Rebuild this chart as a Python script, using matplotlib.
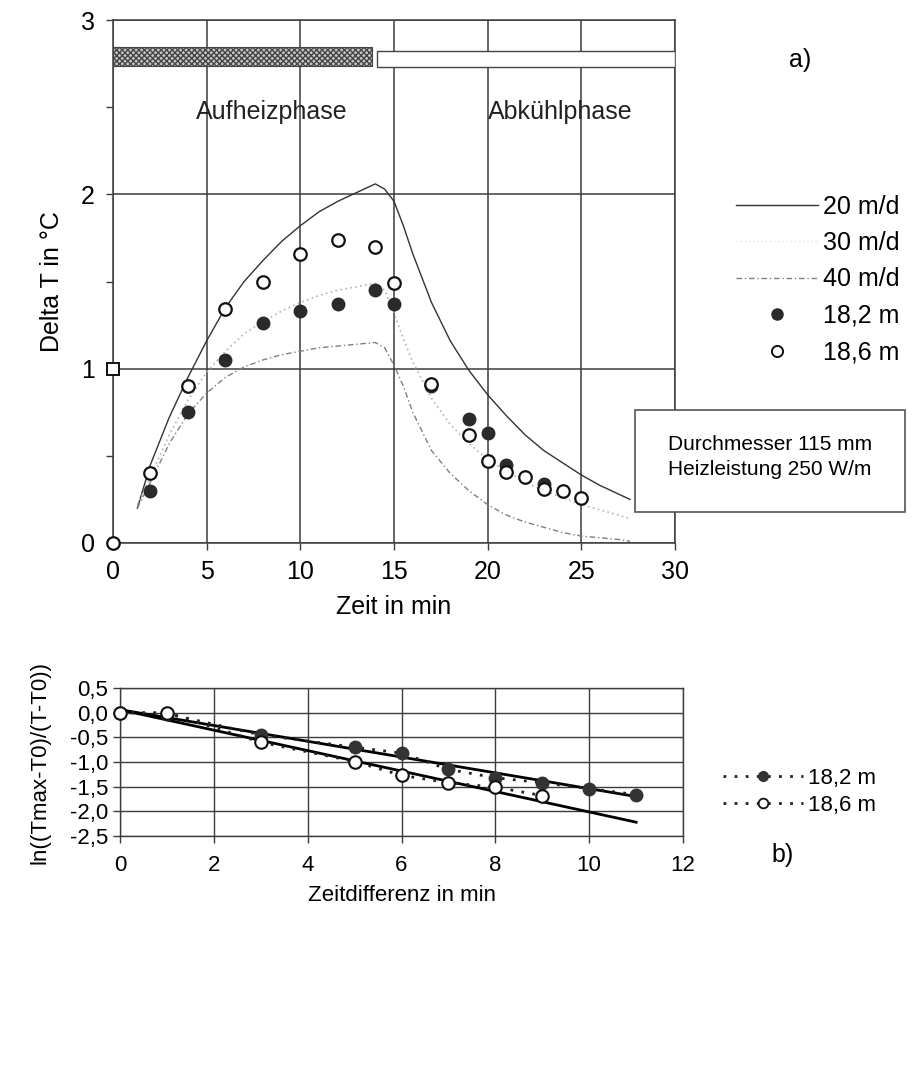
import numpy as np
import matplotlib
matplotlib.use("Agg")
import matplotlib.pyplot as plt
import matplotlib.patches as mpatches
from matplotlib.lines import Line2D

plt.rcParams["font.family"] = ["Liberation Sans", "DejaVu Sans"]
plt.rcParams["hatch.color"] = "#777777"

# ---------------------------------------------------------------------------
# Panel a) – measured and modelled temperature rise
# ---------------------------------------------------------------------------
t_model = [1.3, 2, 3, 4, 5, 6, 7, 8, 9, 10, 11, 12, 13, 14, 14.5, 15, 15.5,
           16, 17, 18, 19, 20, 21, 22, 23, 24, 25, 26, 27, 27.6]
dT_20 = [0.20, 0.45, 0.72, 0.95, 1.16, 1.35, 1.50, 1.62, 1.73, 1.82, 1.90,
         1.96, 2.01, 2.06, 2.03, 1.96, 1.82, 1.66, 1.38, 1.16, 0.99, 0.85,
         0.73, 0.62, 0.53, 0.46, 0.39, 0.33, 0.28, 0.25]
dT_30 = [0.22, 0.38, 0.62, 0.82, 0.98, 1.10, 1.20, 1.27, 1.33, 1.38, 1.42,
         1.45, 1.47, 1.49, 1.45, 1.32, 1.17, 1.04, 0.83, 0.68, 0.57, 0.48,
         0.41, 0.35, 0.30, 0.26, 0.22, 0.19, 0.16, 0.14]
dT_40 = [0.20, 0.35, 0.57, 0.74, 0.86, 0.95, 1.01, 1.05, 1.08, 1.10, 1.12,
         1.13, 1.14, 1.15, 1.12, 1.02, 0.90, 0.75, 0.53, 0.40, 0.30, 0.22,
         0.16, 0.12, 0.09, 0.06, 0.04, 0.03, 0.02, 0.01]

t_182 = [2, 4, 6, 8, 10, 12, 14, 15, 17, 19, 20, 21, 23]
dT_182 = [0.30, 0.75, 1.05, 1.26, 1.33, 1.37, 1.45, 1.37, 0.90, 0.71, 0.63,
          0.45, 0.34]

t_186 = [0, 2, 4, 6, 8, 10, 12, 14, 15, 17, 19, 20, 21, 22, 23, 24, 25]
dT_186 = [0.0, 0.40, 0.90, 1.34, 1.50, 1.66, 1.74, 1.70, 1.49, 0.91, 0.62,
          0.47, 0.41, 0.38, 0.31, 0.30, 0.26]

t_square = [0]
dT_square = [1.0]

phase_names = ["Aufheizphase", "Abkühlphase"]
phase_start = [0.0, 14.1]
phase_end = [13.8, 30.0]

# ---------------------------------------------------------------------------
# Panel b) – log plot of the cooling phase
# ---------------------------------------------------------------------------
dt_182 = [0, 1, 3, 5, 6, 7, 8, 9, 10, 11]
ln_182 = [0.0, -0.02, -0.45, -0.70, -0.82, -1.15, -1.32, -1.42, -1.54, -1.66]
dt_186 = [0, 1, 3, 5, 6, 7, 8, 9]
ln_186 = [0.0, 0.0, -0.60, -0.99, -1.27, -1.42, -1.51, -1.68]

fit_dt = [0, 11]
fit_182 = [0.06, -1.70]
fit_186 = [0.06, -2.22]

GRID = "#3c3c3c"
DARK = "#2a2a2a"
FS_A = 18
FS_B = 16
DOTS = (0, (1, 3))

fig = plt.figure(figsize=(9.17, 10.72), dpi=100)
fig.patch.set_facecolor("white")

# ----------------------------- panel a ------------------------------------
ax = fig.add_axes([113 / 917, 1 - 543 / 1072, 562 / 917, 523 / 1072])
ax.set_xlim(0, 30)
ax.set_ylim(0, 3)
ax.set_xticks(range(0, 31, 5))
ax.set_yticks([0, 1, 2, 3])
ax.set_yticks([0.5, 1.5, 2.5], minor=True)
ax.grid(True, which="major", color=GRID, lw=1.1)
for sp in ax.spines.values():
    sp.set_color(GRID)
    sp.set_linewidth(1.1)
ax.tick_params(axis="both", which="major", direction="out", length=5,
               width=1.0, color=GRID, labelsize=FS_A)
ax.tick_params(axis="y", which="minor", direction="out", length=5,
               width=1.0, color=GRID)
ax.tick_params(axis="x", pad=7)
ax.tick_params(axis="y", pad=8)

# phase bars
ax.barh(2.79, phase_end[0] - phase_start[0], left=phase_start[0], height=0.11,
        facecolor="#c8c8c8", edgecolor="#444444", hatch="xxxxxx", lw=0.8,
        zorder=3)
ax.barh(2.775, phase_end[1] - phase_start[1], left=phase_start[1], height=0.09,
        facecolor="white", edgecolor="#444444", lw=1.0, zorder=3)
ax.text(8.5, 2.47, phase_names[0], fontsize=FS_A, ha="center", va="center",
        color="#222222")
ax.text(23.9, 2.47, phase_names[1], fontsize=FS_A, ha="center", va="center",
        color="#222222")

l20, = ax.plot(t_model, dT_20, color="#333333", lw=1.0, zorder=4)
l30, = ax.plot(t_model, dT_30, color="#b4b4b4", lw=1.2, ls=(0, (1, 2)),
               zorder=4)
l40, = ax.plot(t_model, dT_40, color="#808080", lw=1.0,
               ls=(0, (4, 2, 1, 2)), zorder=4)
ax.plot(t_182, dT_182, "o", ms=9, color=DARK, mec=DARK, zorder=5,
        clip_on=False)
ax.plot(t_186, dT_186, "o", ms=9, mfc="white", mec="#111111", mew=1.6,
        zorder=6, clip_on=False)
ax.plot(t_square, dT_square, "s", ms=9, mfc="white", mec="#111111", mew=1.4,
        zorder=6, clip_on=False)

ax.set_xlabel("Zeit in min", fontsize=FS_A, labelpad=8)
ax.set_ylabel("Delta T in °C", fontsize=FS_A, labelpad=12)

h_a = [l20,
       Line2D([], [], color="#e4e4e4", lw=1.0, ls=(0, (1, 2))),
       l40,
       Line2D([], [], ls="none", marker="o", ms=8, color=DARK),
       Line2D([], [], ls="none", marker="o", ms=8, mfc="white",
              mec="#111111", mew=1.4)]
fig.legend(h_a, ["20 m/d", "30 m/d", "40 m/d", "18,2 m", "18,6 m"],
           loc="upper right", bbox_to_anchor=(912 / 917, 1 - 182 / 1072),
           frameon=False, fontsize=FS_A, handlelength=3.3, handletextpad=0.2,
           labelspacing=0.5, borderpad=0)

fig.text(800 / 917, 1 - 60 / 1072, "a)", fontsize=FS_A, ha="center",
         va="center")

# info box
box = mpatches.Rectangle((635 / 917, 1 - 512 / 1072), 270 / 917, 102 / 1072,
                         transform=fig.transFigure, facecolor="white",
                         edgecolor="#555555", lw=1.2, zorder=10)
fig.patches.append(box)
fig.text(770 / 917, 1 - 457 / 1072, "Durchmesser 115 mm\nHeizleistung 250 W/m",
         fontsize=15, ha="center", va="center", linespacing=1.35, zorder=11)

# ----------------------------- panel b ------------------------------------
bx = fig.add_axes([120 / 917, 1 - 836 / 1072, 563 / 917, 148 / 1072])
bx.set_xlim(0, 12)
bx.set_ylim(-2.5, 0.5)
bx.set_xticks(range(0, 13, 2))
yt = np.arange(-2.5, 0.51, 0.5)
bx.set_yticks(yt)
bx.set_yticklabels([f"{v:.1f}".replace(".", ",").replace("-0,0", "0,0")
                    for v in yt])
bx.grid(True, color=GRID, lw=1.0)
for sp in bx.spines.values():
    sp.set_color(GRID)
    sp.set_linewidth(1.0)
bx.tick_params(axis="both", direction="out", length=5, width=1.0, color=GRID,
               labelsize=FS_B)
bx.tick_params(axis="x", pad=9)

bx.plot(fit_dt, fit_182, color="black", lw=2.0, zorder=4)
bx.plot(fit_dt, fit_186, color="black", lw=2.0, zorder=4)
bx.plot(dt_182, ln_182, color="#222222", ls=DOTS, lw=2.0, marker="o", ms=9,
        mfc="#333333", mec="#333333", zorder=5, clip_on=False)
bx.plot(dt_186, ln_186, color="#222222", ls=DOTS, lw=2.0, marker="o", ms=9,
        mfc="white", mec="#111111", mew=1.5, zorder=6, clip_on=False)

bx.set_xlabel("Zeitdifferenz in min", fontsize=FS_B, labelpad=6)
bx.set_ylabel("ln((Tmax-T0)/(T-T0))", fontsize=FS_B, labelpad=14)

h_b = [Line2D([], [], color="#222222", ls=DOTS, lw=2.0, marker="o",
              ms=7, mfc="#333333", mec="#333333"),
       Line2D([], [], color="#222222", ls=DOTS, lw=2.0, marker="o",
              ms=7, mfc="white", mec="#111111", mew=1.3)]
fig.legend(h_b, ["18,2 m", "18,6 m"], loc="upper left",
           bbox_to_anchor=(712 / 917, 1 - 757 / 1072), frameon=False,
           fontsize=FS_B, handlelength=3.6, handletextpad=0.2,
           labelspacing=0.25, borderpad=0)

fig.text(783 / 917, 1 - 855 / 1072, "b)", fontsize=FS_A, ha="center",
         va="center")

fig.savefig("out.png", dpi=100, facecolor="white")
